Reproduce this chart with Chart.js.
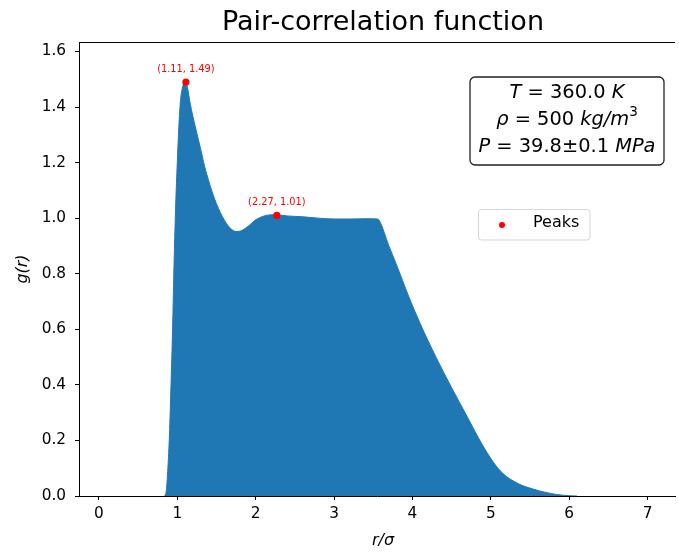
<!DOCTYPE html>
<html>
<head>
<meta charset="utf-8">
<script src="https://cdn.jsdelivr.net/npm/chart.js@4.4.1/dist/chart.umd.min.js"></script>
<style>
  html, body { margin: 0; padding: 0; background: #fff; overflow: hidden; }
  #gr { display: block; }
</style>
</head>
<body>
<canvas id="gr" width="679" height="552"></canvas>
<script>
// g(r)
const rVals = [0.84, 0.86, 0.88, 0.90, 0.92, 0.94, 0.96, 0.98, 1.00, 1.02, 1.04, 1.07, 1.10, 1.13, 1.16,
  1.20, 1.25, 1.30, 1.35, 1.40, 1.45, 1.50, 1.55, 1.60, 1.65, 1.70, 1.75, 1.80, 1.85, 1.90, 1.95,
  2.00, 2.10, 2.20, 2.27, 2.40, 2.60, 2.80, 3.00, 3.20, 3.40, 3.55, 3.58, 3.70, 3.80, 3.95, 4.10,
  4.30, 4.50, 4.70, 4.85, 5.00, 5.10, 5.20, 5.30, 5.40, 5.55, 5.70, 5.85, 6.00, 6.10];
const gVals = [0.00, 0.02, 0.10, 0.22, 0.40, 0.60, 0.85, 1.05, 1.20, 1.33, 1.42, 1.475, 1.49, 1.47, 1.42,
  1.365, 1.305, 1.246, 1.185, 1.135, 1.09, 1.052, 1.02, 0.993, 0.972, 0.958, 0.952, 0.953, 0.96, 0.97, 0.982,
  0.994, 1.007, 1.012, 1.012, 1.008, 1.005, 1.000, 0.997, 0.997, 0.998, 0.997, 0.99, 0.90, 0.83, 0.72, 0.62,
  0.50, 0.39, 0.285, 0.205, 0.135, 0.097, 0.07, 0.052, 0.038, 0.024, 0.013, 0.005, 0.001, 0.0];

const peakR = [1.11, 2.27];
const peakG = [1.49, 1.01];
const peakLabels = ["(1.11, 1.49)", "(2.27, 1.01)"];

const xTicks = [0, 1, 2, 3, 4, 5, 6, 7];
const yTicks = [0.0, 0.2, 0.4, 0.6, 0.8, 1.0, 1.2, 1.4, 1.6];

const FONT = "'DejaVu Sans', sans-serif";
const blue = "#1f77b4";

// rich text: segments of {t, it, sup}
function drawRich(ctx, segs, cx, cy, size) {
  let w = 0;
  segs.forEach(s => {
    const sz = s.sup ? size * 0.7 : size;
    ctx.font = (s.it ? "italic " : "") + sz + "px " + FONT;
    s.w = ctx.measureText(s.t).width;
    w += s.w;
  });
  let x = cx - w / 2;
  ctx.textAlign = "left";
  ctx.textBaseline = "middle";
  segs.forEach(s => {
    const sz = s.sup ? size * 0.7 : size;
    ctx.font = (s.it ? "italic " : "") + sz + "px " + FONT;
    ctx.fillText(s.t, x, s.sup ? cy - size * 0.38 : cy);
    x += s.w;
  });
}

function roundRect(ctx, x, y, w, h, r) {
  ctx.beginPath();
  ctx.moveTo(x + r, y);
  ctx.arcTo(x + w, y, x + w, y + h, r);
  ctx.arcTo(x + w, y + h, x, y + h, r);
  ctx.arcTo(x, y + h, x, y, r);
  ctx.arcTo(x, y, x + w, y, r);
  ctx.closePath();
}

const decor = {
  id: "decor",
  afterDraw(chart) {
    const ctx = chart.ctx;
    const a = chart.chartArea;
    const xs = chart.scales.x, ys = chart.scales.y;
    ctx.save();
    // top spine (the right one is cut off by the figure edge)
    ctx.strokeStyle = "#000";
    ctx.lineWidth = 1;
    ctx.beginPath();
    ctx.moveTo(a.left, a.top + 0.5);
    ctx.lineTo(a.right, a.top + 0.5);
    ctx.stroke();

    // title
    ctx.fillStyle = "#000";
    ctx.font = "27px " + FONT;
    ctx.textAlign = "center";
    ctx.textBaseline = "alphabetic";
    ctx.fillText("Pair-correlation function", 383, 30);

    // axis labels
    ctx.font = "italic 16px " + FONT;
    ctx.textBaseline = "middle";
    ctx.fillText("r/\u03c3", 383, 541);
    ctx.save();
    ctx.translate(23, (a.top + a.bottom) / 2);
    ctx.rotate(-Math.PI / 2);
    ctx.fillText("g(r)", 0, 0);
    ctx.restore();

    // peak labels
    ctx.fillStyle = "#ff0000";
    ctx.font = "9.8px " + FONT;
    peakR.forEach((r, i) => {
      const px = xs.getPixelForValue(r);
      const py = ys.getPixelForValue(peakG[i]);
      ctx.fillText(peakLabels[i], px, py - 13);
    });

    // state box
    ctx.fillStyle = "#fff";
    roundRect(ctx, 470, 77, 194, 88, 5);
    ctx.fill();
    ctx.strokeStyle = "#222";
    ctx.lineWidth = 1.3;
    ctx.stroke();
    ctx.fillStyle = "#000";
    const bx = 567, fs = 19.4;
    drawRich(ctx, [{t: "T", it: true}, {t: " = 360.0 "}, {t: "K", it: true}], bx, 93, fs);
    drawRich(ctx, [{t: "\u03c1", it: true}, {t: " = 500 "}, {t: "kg/m", it: true}, {t: "3", sup: true}], bx, 120, fs);
    drawRich(ctx, [{t: "P", it: true}, {t: " = 39.8\u00b10.1 "}, {t: "MPa", it: true}], bx, 147, fs);

    // legend
    ctx.fillStyle = "rgba(255,255,255,0.8)";
    roundRect(ctx, 478.5, 209.5, 111.5, 30.5, 3);
    ctx.fill();
    ctx.strokeStyle = "#d5d5d5";
    ctx.lineWidth = 1;
    ctx.stroke();
    ctx.fillStyle = "red";
    ctx.beginPath();
    ctx.arc(502, 225, 3, 0, Math.PI * 2);
    ctx.fill();
    ctx.fillStyle = "#000";
    ctx.font = "16px " + FONT;
    ctx.textAlign = "left";
    ctx.fillText("Peaks", 533, 223);
    ctx.restore();
  }
};

const ctx = document.getElementById("gr");
new Chart(ctx, {
  type: "line",
  data: {
    datasets: [
      {
        type: "scatter",
        data: peakR.map((r, i) => ({x: r, y: peakG[i]})),
        backgroundColor: "red",
        borderWidth: 0,
        pointRadius: 3.6,
        order: 0
      },
      {
        data: rVals.map((r, i) => ({x: r, y: gVals[i]})),
        borderColor: blue,
        backgroundColor: blue,
        borderWidth: 1,
        pointRadius: 0,
        fill: "origin",
        cubicInterpolationMode: "monotone",
        order: 1
      }
    ]
  },
  options: {
    responsive: false,
    maintainAspectRatio: false,
    animation: false,
    devicePixelRatio: 1,
    layout: { padding: { top: 42, right: 0, left: 0, bottom: 0 } },
    plugins: { legend: { display: false }, tooltip: { enabled: false }, title: { display: false } },
    scales: {
      x: {
        type: "linear",
        min: -0.254,
        max: 7.35,
        afterBuildTicks: s => { s.ticks = xTicks.map(v => ({value: v})); },
        afterFit: s => { s.height = 56; },
        grid: { drawOnChartArea: false, tickLength: 4, tickColor: "#000", tickWidth: 1 },
        border: { color: "#000", width: 1 },
        ticks: { color: "#000", font: { family: FONT, size: 15.3 }, padding: 5, maxRotation: 0,
          callback: v => String(v) }
      },
      y: {
        type: "linear",
        min: 0,
        max: 1.634,
        afterBuildTicks: s => { s.ticks = yTicks.map(v => ({value: v})); },
        afterFit: s => { s.width = 79; },
        grid: { drawOnChartArea: false, tickLength: 4, tickColor: "#000", tickWidth: 1 },
        border: { color: "#000", width: 1 },
        ticks: { color: "#000", font: { family: FONT, size: 15.3 }, padding: 9,
          callback: v => v.toFixed(1) }
      }
    }
  },
  plugins: [decor]
});
</script>
</body>
</html>
